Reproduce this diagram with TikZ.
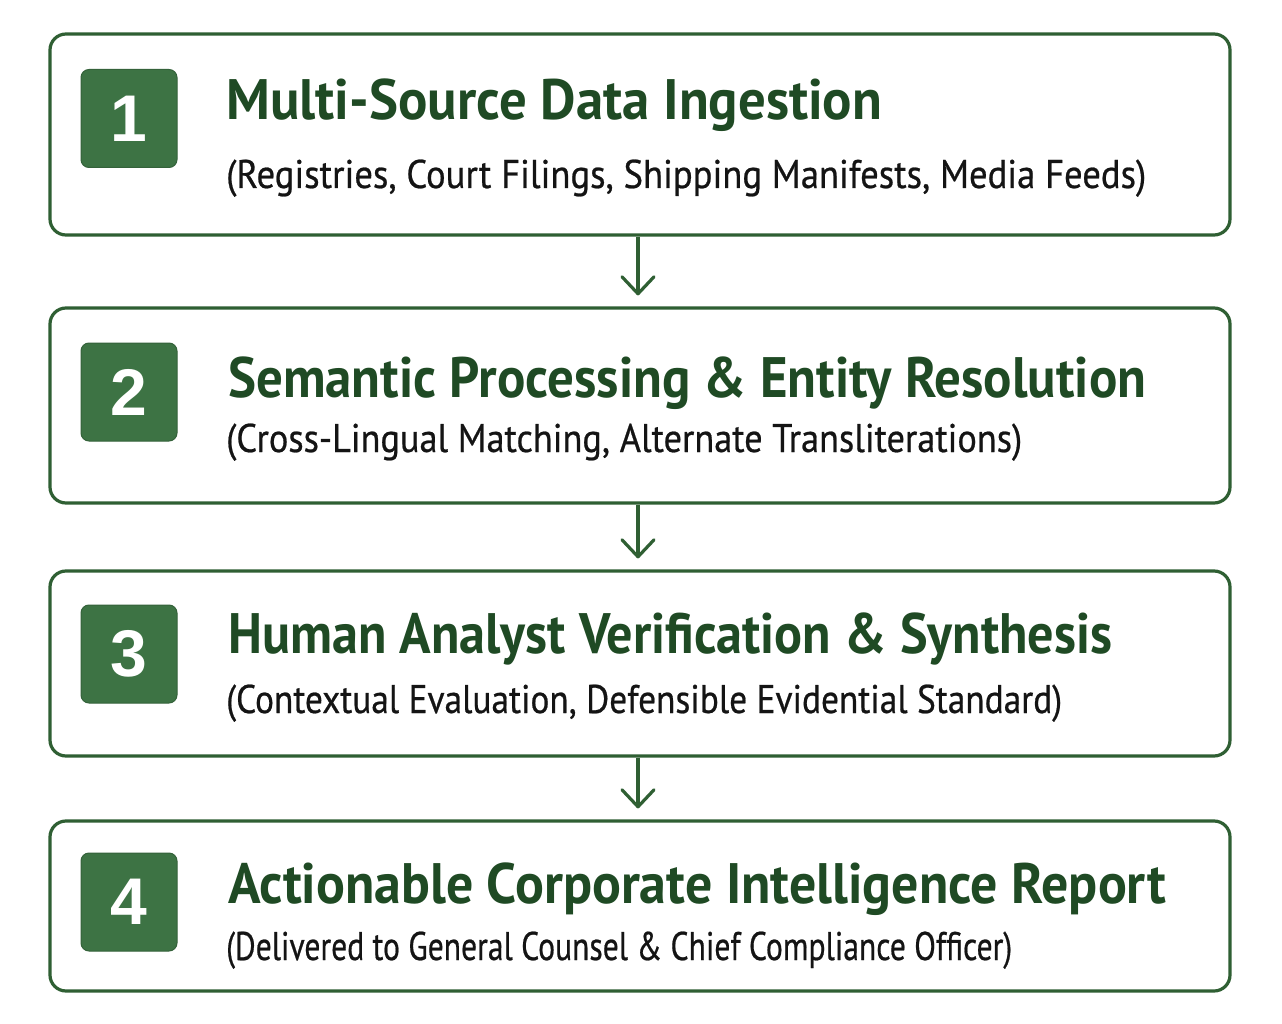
\documentclass[tikz,border=0pt]{standalone}
\usepackage{fontspec}
\usepackage{graphicx}
\setmainfont{PT Sans}
\newfontfamily\subfont{PT Sans}[FakeBold=0.6]
\newfontfamily\digitfont{Liberation Sans}
\usetikzlibrary{arrows.meta}
\definecolor{boxgreen}{HTML}{2F5F33}
\definecolor{badgegreen}{HTML}{3D7344}
\definecolor{titlegreen}{HTML}{1F4A24}
\definecolor{subblack}{HTML}{141414}
\newcommand{\fitw}[2]{\resizebox{#1}{\height}{#2}}
\begin{document}
\begin{tikzpicture}[x=1pt,y=-1pt,
 stepbox/.style={draw=boxgreen, line width=3.2pt, rounded corners=16pt, fill=white, minimum width=1180pt, inner sep=0pt},
 badge/.style={fill=badgegreen, draw=badgegreen!85!black, line width=1pt, rounded corners=8pt, minimum width=96pt, minimum height=98pt, inner sep=0pt, text=white, font=\digitfont\bfseries\fontsize{66}{66}\selectfont},
 titletext/.style={anchor=base west, inner sep=0pt, text=titlegreen, font=\bfseries\fontsize{57}{60}\selectfont},
 subtext/.style={anchor=base west, inner sep=0pt, text=subblack, font=\subfont\fontsize{40}{42}\selectfont},
 flow/.style={draw=boxgreen, line width=3.2pt, -{Straight Barb[length=17pt,width=32pt,round]}, shorten >=11pt}
]
\fill[white] (0,0) rectangle (1282,1024);
\useasboundingbox (0,0) rectangle (1282,1024);

\node[stepbox, minimum height=201pt] (b1) at (640,134.5) {};
\node[stepbox, minimum height=195pt] (b2) at (640,405.5) {};
\node[stepbox, minimum height=185pt] (b3) at (640,663.5) {};
\node[stepbox, minimum height=170pt] (b4) at (640,906) {};

\node[badge] (n1) at (129,118.5) {1};
\node[badge] (n2) at (129,392) {2};
\node[badge] (n3) at (129,654) {3};
\node[badge] (n4) at (129,902) {4};

\node[titletext] (t1) at (226,120) {\fitw{656pt}{Multi-Source Data Ingestion}};
\node[subtext] (s1) at (226,188) {\fitw{920pt}{(Registries, Court Filings, Shipping Manifests, Media Feeds)}};
\node[titletext] (t2) at (228,397) {\fitw{918pt}{Semantic Processing \& Entity Resolution}};
\node[subtext] (s2) at (226,452) {\fitw{796pt}{(Cross-Lingual Matching, Alternate Transliterations)}};
\node[titletext] (t3) at (228,653) {\fitw{884pt}{Human Analyst Verification \& Synthesis}};
\node[subtext] (s3) at (226,713) {\fitw{836pt}{(Contextual Evaluation, Defensible Evidential Standard)}};
\node[titletext] (t4) at (228,903) {\fitw{938pt}{Actionable Corporate Intelligence Report}};
\node[subtext] (s4) at (226,960) {\fitw{786pt}{(Delivered to General Counsel \& Chief Compliance Officer)}};

\draw[flow] ([xshift=-2pt]b1.south) -- ([xshift=-2pt]b2.north);
\draw[flow] ([xshift=-2pt]b2.south) -- ([xshift=-2pt]b3.north);
\draw[flow] ([xshift=-2pt]b3.south) -- ([xshift=-2pt]b4.north);
\end{tikzpicture}
\end{document}
